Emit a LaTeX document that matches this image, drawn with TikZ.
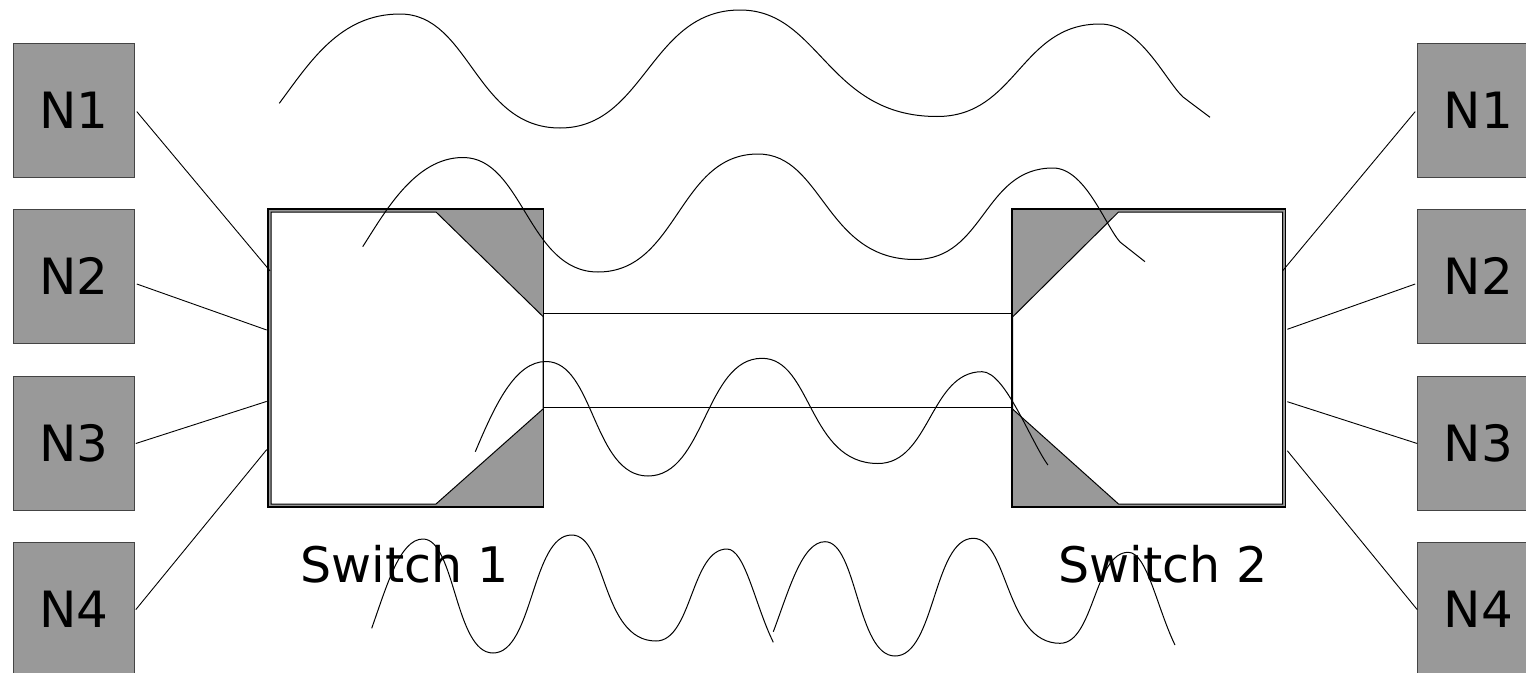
\documentclass[tikz,border=0pt]{standalone}
\usepackage{fontspec}
\setmainfont{DejaVu Sans}
\definecolor{boxgrey}{HTML}{999999}
\definecolor{edgegrey}{HTML}{444444}
\tikzset{
  hostbox/.style={draw=edgegrey, line width=1pt, fill=boxgrey, minimum width=121pt, minimum height=134pt, inner sep=0pt, font=\fontsize{50}{56}\selectfont},
  link/.style={draw=black, line width=0.9pt},
  wave/.style={draw=black, line width=1pt},
  swlabel/.style={anchor=base west, inner sep=0pt, font=\fontsize{49}{56}\selectfont},
}
\begin{document}
\begin{tikzpicture}[x=1pt,y=-1pt]
\useasboundingbox (0,0) rectangle (1526,672);
\fill[white] (0,0) rectangle (1526,672);

% left hosts
\node[hostbox] (L1) at (73.8,110) {N1};
\node[hostbox] (L2) at (73.8,276) {N2};
\node[hostbox] (L3) at (73.8,443) {N3};
\node[hostbox] (L4) at (73.8,609) {N4};
% right hosts
\node[hostbox] (R1) at (1478.2,110) {N1};
\node[hostbox] (R2) at (1478.2,276) {N2};
\node[hostbox] (R3) at (1478.2,443) {N3};
\node[hostbox] (R4) at (1478.2,609) {N4};

% switch 1
\draw[line width=1.2pt, fill=boxgrey] (268,209) rectangle (543.5,507);
\draw[line width=1pt, fill=white] (271,212) -- (436,212) -- (543,316.5) -- (543,409) -- (436,504) -- (271,504) -- cycle;
% switch 2
\draw[line width=1.2pt, fill=boxgrey] (1012,209) rectangle (1285.5,507);
\draw[line width=1pt, fill=white] (1012.5,317) -- (1118.5,212) -- (1282.5,212) -- (1282.5,504) -- (1118.5,504) -- (1012.5,409) -- cycle;
% link between switches
\draw[link] (543,313) rectangle (1011,407);

% attachment points on the switches
\coordinate (S1a) at (270,270.8);
\coordinate (S1b) at (266.7,330);
\coordinate (S1c) at (266.7,401.4);
\coordinate (S1d) at (266.7,449.6);
\coordinate (S2a) at (1282.7,270.7);
\coordinate (S2b) at (1287.3,329.3);
\coordinate (S2c) at (1287.3,401.7);
\coordinate (S2d) at (1287.3,450.7);

\draw[link] ([shift={(2,1.6)}]L1.east) -- (S1a);
\draw[link] ([shift={(2,8)}]L2.east) -- (S1b);
\draw[link] ([shift={(1,0.5)}]L3.east) -- (S1c);
\draw[link] ([shift={(1,0.6)}]L4.east) -- (S1d);
\draw[link] ([shift={(-2,1.6)}]R1.west) -- (S2a);
\draw[link] ([shift={(-2,8)}]R2.west) -- (S2b);
\draw[link] ([shift={(0,0.5)}]R3.west) -- (S2c);
\draw[link] ([shift={(0,0.6)}]R4.west) -- (S2d);

% labels
\node[swlabel] (T1) at (300,582) {Switch 1};
\node[swlabel] (T2) at (1058.5,582) {Switch 2};

% waves
\draw[wave] (279.3,103.3) .. controls (310,62) and (340,14) .. (400,14)
  .. controls +(70,0) and +(-85,0) .. (560,128)
  .. controls +(85,0) and +(-90,0) .. (740,10)
  .. controls +(80,0) and +(-110,0) .. (937,116.5)
  .. controls +(80,0) and +(-80,0) .. (1100,24)
  .. controls (1140,24) and (1165,80) .. (1183,97) -- (1210,117.3);

\draw[wave] (362.7,246.7) .. controls (385,212) and (415,157.5) .. (463,157.5)
  .. controls +(60,0) and +(-70,0) .. (598,272)
  .. controls +(80,0) and +(-80,0) .. (758,154)
  .. controls +(65,0) and +(-90,0) .. (915,259.5)
  .. controls +(70,0) and +(-70,0) .. (1053,168)
  .. controls (1085,168) and (1105,225) .. (1120,242) -- (1145,261.7);

\draw[wave] (475.3,451.7) .. controls (495,405) and (515,361.5) .. (546,361.5)
  .. controls +(48,0) and +(-55,0) .. (648,476)
  .. controls +(57,0) and +(-57,0) .. (762,358.3)
  .. controls +(50,0) and +(-70,0) .. (878,463.5)
  .. controls +(52,0) and +(-52,0) .. (982,371.7)
  .. controls (1005,371.7) and (1030,440) .. (1047.9,465);

\draw[wave] (371.7,628.3) .. controls (387,585) and (400,539) .. (423,539)
  .. controls +(32,0) and +(-38,0) .. (493,653)
  .. controls +(40,0) and +(-40,0) .. (571.7,535)
  .. controls +(35,0) and +(-55,0) .. (656,641)
  .. controls +(36,0) and +(-36,0) .. (727,549)
  .. controls (745,549) and (755,605) .. (773.3,642.3);

\draw[wave] (773.3,631.7) .. controls (789,590) and (802,541.7) .. (825,541.7)
  .. controls +(32,0) and +(-38,0) .. (895,656)
  .. controls +(40,0) and +(-40,0) .. (973.3,538.3)
  .. controls +(35,0) and +(-55,0) .. (1060,643.3)
  .. controls +(34,0) and +(-34,0) .. (1128.3,552.3)
  .. controls (1147,552.3) and (1157,608) .. (1175,645);
\end{tikzpicture}
\end{document}
